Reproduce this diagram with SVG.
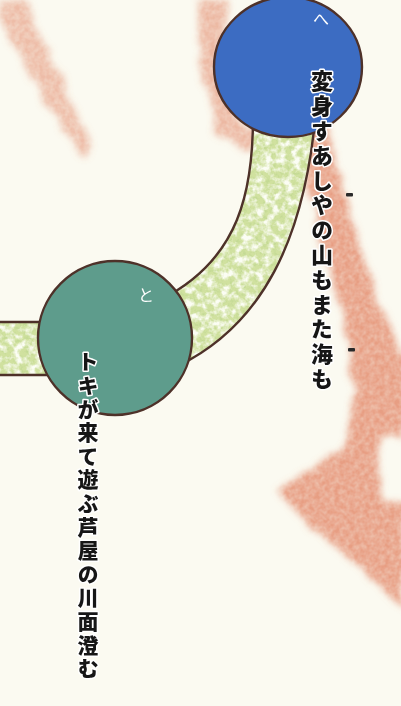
<svg xmlns="http://www.w3.org/2000/svg" width="401" height="706" viewBox="0 0 401 706">
  <defs>
    <style>
      .outline { stroke: #4e3129; stroke-width: 2.4; }
      .vtext { font-family: "Noto Sans CJK JP", "Noto Sans CJK SC", sans-serif; font-weight: 900; fill: #161616; stroke: #ffffff; stroke-width: 3; paint-order: stroke; stroke-linejoin: round; writing-mode: vertical-rl; text-orientation: upright; }
      .kana { font-family: "Noto Sans CJK JP", sans-serif; font-size: 16px; fill: #ffffff; text-anchor: middle; }
      .wash { fill: #e07f5e; }
    </style>
    <filter id="wash" x="-30%" y="-30%" width="160%" height="160%">
      <feTurbulence type="fractalNoise" baseFrequency="0.045" numOctaves="3" seed="4" result="t"/>
      <feDisplacementMap in="SourceGraphic" in2="t" scale="14" xChannelSelector="R" yChannelSelector="G" result="d"/>
      <feGaussianBlur in="d" stdDeviation="3.5" result="b"/>
      <feTurbulence type="fractalNoise" baseFrequency="0.2" numOctaves="2" seed="9" result="g"/>
      <feColorMatrix in="g" type="matrix" values="0 0 0 0 0  0 0 0 0 0  0 0 0 0 0  -0.6 0 0 0 1.15" result="ga"/>
      <feComposite in="b" in2="ga" operator="in"/>
    </filter>
    <filter id="mottle" x="0" y="0" width="100%" height="100%">
      <feTurbulence type="fractalNoise" baseFrequency="0.14" numOctaves="3" seed="7" result="t"/>
      <feColorMatrix in="t" type="matrix" values="0 0 0 0 0.97  0 0 0 0 0.98  0 0 0 0 0.9  3.2 0 0 0 -1.3" result="w"/>
      <feComposite in="w" in2="SourceGraphic" operator="in"/>
    </filter>
    <filter id="speck" x="0" y="0" width="100%" height="100%">
      <feTurbulence type="fractalNoise" baseFrequency="0.3" numOctaves="2" seed="11" result="t"/>
      <feColorMatrix in="t" type="matrix" values="0 0 0 0 0.55  0 0 0 0 0.7  0 0 0 0 0.3  3.2 0 0 0 -1.5" result="s"/>
      <feComposite in="s" in2="SourceGraphic" operator="in"/>
    </filter>
  </defs>

  <rect width="401" height="706" fill="#fbfaf1"/>

  <g id="washes" filter="url(#wash)">
    <path class="wash" opacity="0.5" d="M4,2 L24,0 L90,140 Q92,158 80,156 L0,24 Z"/>
    <path class="wash" opacity="0.55" d="M198,0 L226,0 L222,60 L238,120 L272,140 L248,152 L214,132 L200,70 Z"/>
    <path class="wash" opacity="0.75" d="M296,118 L324,118 L340,172 L354,232 L374,290 L396,345 L405,360 L405,440 L382,436 L378,470 L384,497 L405,502 L405,612 L360,567 L310,527 L277,490 L303,473 L327,460 L345,447 L349,420 L354,387 L344,330 L330,272 L315,212 L304,160 Z"/>
  </g>

  <g id="connectors">
    <g id="band-arc">
      <path d="M253,110 C254,190 240,260 160,300 L178,366 C262,325 305,240 316,110 Z" fill="#d0e19f"/>
      <path d="M253,110 C254,190 240,260 160,300 L178,366 C262,325 305,240 316,110 Z" fill="#000" filter="url(#speck)"/>
      <path d="M253,110 C254,190 240,260 160,300 L178,366 C262,325 305,240 316,110 Z" fill="#000" filter="url(#mottle)"/>
      <path class="outline" fill="none" d="M253,110 C254,190 240,260 160,300"/>
      <path class="outline" fill="none" d="M178,366 C262,325 305,240 316,110"/>
    </g>
    <g id="band-left">
      <rect x="-5" y="322" width="70" height="53" fill="#d0e19f"/>
      <rect x="-5" y="322" width="70" height="53" fill="#000" filter="url(#speck)"/>
      <rect x="-5" y="322" width="70" height="53" fill="#000" filter="url(#mottle)"/>
      <path class="outline" fill="none" d="M-5,322 L65,322 M-5,375 L65,375"/>
    </g>
  </g>

  <g id="node-he">
    <ellipse class="outline" cx="288" cy="67" rx="74" ry="70" fill="#3c6cc2"/>
    <text class="kana" x="321" y="25">へ</text>
  </g>

  <g id="node-to">
    <circle class="outline" cx="115" cy="338" r="77" fill="#5e9c8c"/>
    <text class="kana" x="146" y="301">と</text>
  </g>

  <g id="marks" fill="#2a2a2a">
    <rect x="346" y="193" width="7" height="3.5" rx="1"/>
    <rect x="348" y="348" width="7" height="3.5" rx="1"/>
  </g>

  <g id="poem">
    <text class="vtext" x="322" y="70" font-size="22" letter-spacing="2.8">変身すあしやの山もまた海も</text>
    <text class="vtext" x="88" y="351" font-size="21" letter-spacing="2.6">トキが来て遊ぶ芦屋の川面澄む</text>
  </g>
</svg>
